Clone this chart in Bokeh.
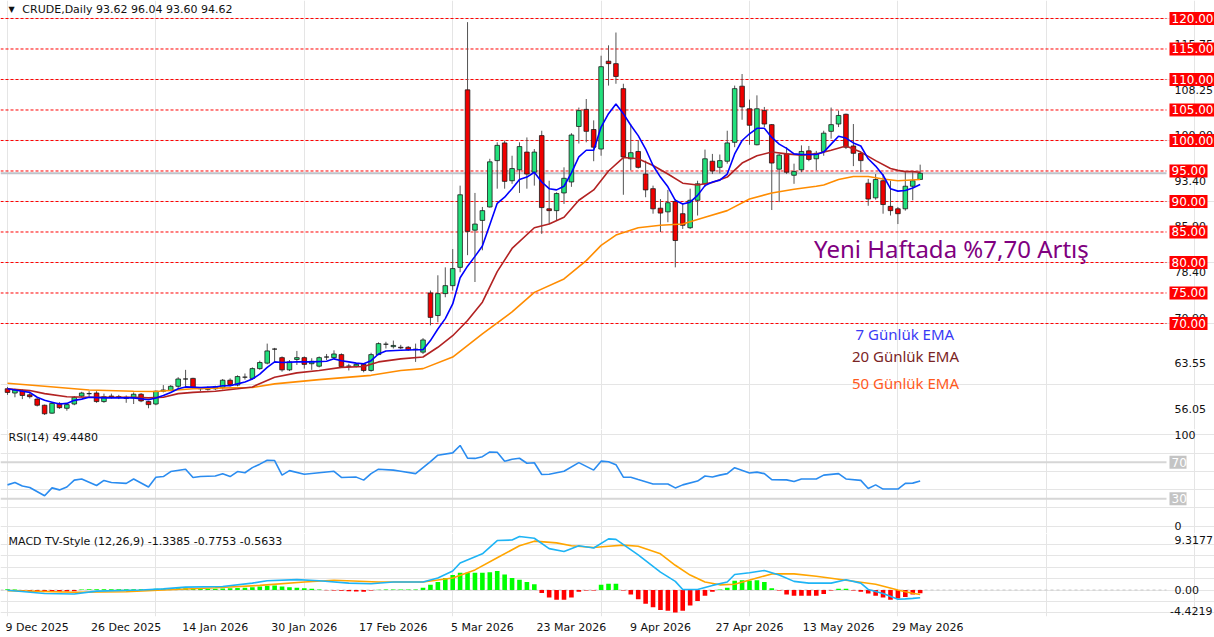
import numpy as np
from bokeh.plotting import figure
from bokeh.layouts import column
from bokeh.models import Range1d, LinearAxis, FixedTicker, Label
from bokeh.core.properties import value
from bokeh.embed import file_html
from bokeh.resources import INLINE

# ---------------- data ----------------
opens = [59.3, 58.6, 59.0, 58.3, 57.6, 56.6, 55.3, 56.9, 56.1, 56.8, 58.1, 58.5, 58.6, 57.2, 58.1, 58.0, 57.9, 57.8, 58.4, 57.2,
         56.8, 58.9, 59.0, 59.7, 60.9, 61.0, 59.4, 59.2, 59.3, 59.5, 60.7, 59.9, 61.2, 61.0, 62.6, 63.5, 65.8, 64.4, 62.4, 64.1,
         64.4, 63.4, 63.0, 64.5, 64.4, 64.9, 63.0, 63.0, 63.3, 62.3, 64.9, 66.6, 66.2, 66.1, 66.1, 65.7, 65.3, 75.0, 71.3, 74.9,
         76.2, 79.2, 108.3, 85.3, 86.9, 89.1, 96.7, 99.6, 93.4, 95.2, 98.1, 94.8, 100.8, 88.8, 88.5, 91.4, 93.2, 102.3, 105.1, 101.8,
         98.6, 113.0, 112.6, 108.5, 97.0, 98.2, 94.5, 92.1, 88.9, 88.3, 90.0, 88.0, 85.7, 90.2, 92.9, 96.6, 95.6, 96.6, 99.7, 108.9,
         105.2, 99.3, 104.9, 102.6, 95.3, 97.8, 94.3, 95.2, 98.3, 97.0, 98.2, 101.5, 102.7, 104.3, 99.1, 97.9, 93.0, 90.6, 93.4, 89.2,
         88.8, 88.8, 92.5, 93.62]
highs = [59.6, 59.3, 59.2, 58.6, 57.8, 56.7, 57.0, 57.1, 56.9, 58.1, 58.8, 58.9, 58.9, 58.5, 58.5, 58.3, 58.2, 58.7, 58.6, 57.3,
         59.0, 59.9, 59.9, 61.2, 62.4, 61.1, 59.6, 59.7, 59.8, 60.9, 61.0, 61.5, 61.8, 62.8, 63.9, 66.7, 66.0, 64.6, 64.0, 65.5,
         64.6, 64.3, 64.6, 65.0, 65.6, 65.1, 63.4, 63.5, 63.5, 65.2, 66.9, 67.0, 67.2, 66.5, 66.3, 66.7, 67.6, 75.4, 77.9, 79.2,
         82.2, 92.6, 119.4, 91.4, 89.1, 97.0, 99.7, 100.0, 97.5, 99.7, 100.5, 98.6, 101.6, 93.4, 91.5, 95.6, 101.2, 105.4, 106.8, 103.3,
         113.9, 115.6, 117.7, 109.3, 102.7, 100.0, 96.7, 92.6, 90.4, 91.9, 90.4, 89.6, 92.1, 93.4, 98.5, 97.8, 97.7, 101.6, 109.0, 110.9,
         106.7, 107.4, 105.5, 102.7, 97.8, 98.9, 96.2, 99.2, 99.1, 98.3, 101.6, 105.4, 104.9, 104.4, 102.7, 98.1, 93.7, 94.5, 94.5, 93.4,
         89.1, 94.8, 94.8, 96.04]
lows = [58.3, 57.9, 57.6, 57.7, 56.4, 55.0, 55.2, 56.0, 55.7, 56.6, 57.9, 58.0, 57.0, 57.0, 57.7, 57.6, 57.0, 56.8, 57.1, 56.1,
        56.6, 58.7, 58.9, 59.4, 59.6, 59.3, 58.9, 59.0, 59.1, 59.2, 59.7, 59.7, 60.8, 60.8, 62.4, 63.3, 63.7, 62.1, 62.2, 63.2,
        62.6, 62.4, 62.8, 64.0, 64.2, 62.8, 62.3, 62.8, 62.0, 62.1, 64.8, 65.9, 65.9, 65.8, 65.5, 63.7, 65.0, 69.7, 70.2, 74.3,
        75.4, 78.4, 81.2, 76.8, 82.0, 89.0, 92.1, 92.1, 92.9, 91.4, 92.1, 92.6, 84.7, 86.3, 86.9, 89.6, 92.4, 99.5, 99.7, 96.6,
        97.5, 109.0, 109.3, 91.1, 95.1, 95.4, 90.7, 88.0, 85.0, 86.6, 79.2, 85.5, 85.5, 87.7, 92.4, 94.5, 94.6, 96.2, 98.9, 103.4,
        99.3, 99.2, 102.2, 88.6, 89.9, 94.5, 92.9, 94.8, 96.6, 95.1, 97.5, 100.3, 102.2, 98.6, 95.8, 94.8, 89.3, 90.3, 88.0, 87.7,
        86.3, 88.5, 90.2, 93.60]
closes = [58.7, 59.1, 58.2, 58.0, 56.6, 55.2, 56.9, 56.2, 56.7, 57.9, 58.6, 58.5, 57.2, 58.0, 58.0, 57.9, 57.7, 58.4, 57.3, 56.7,
          58.9, 59.1, 59.7, 60.9, 60.9, 59.5, 59.3, 59.4, 59.6, 60.7, 60.0, 61.3, 61.2, 62.6, 63.6, 65.5, 65.8, 62.4, 63.7, 64.4,
          63.3, 63.8, 64.4, 64.5, 65.0, 62.95, 63.0, 63.3, 62.3, 64.9, 66.7, 66.6, 66.4, 66.0, 65.7, 65.8, 67.3, 71.0, 74.9, 76.2,
          79.0, 91.1, 85.1, 86.3, 88.5, 96.5, 99.2, 93.3, 95.4, 99.0, 94.5, 98.1, 89.0, 88.5, 91.3, 93.8, 100.9, 104.9, 101.5, 98.9,
          112.1, 112.6, 110.5, 97.3, 98.0, 95.6, 91.9, 88.8, 88.1, 89.8, 83.6, 86.1, 90.2, 92.9, 97.0, 95.0, 96.7, 99.6, 108.5, 105.5,
          102.5, 105.2, 102.7, 96.3, 97.6, 94.8, 94.9, 98.2, 96.9, 97.9, 101.2, 102.6, 104.1, 98.9, 97.9, 96.7, 90.4, 93.6, 89.5, 88.5,
          88.0, 92.5, 93.4, 94.62]

ema7_x = [0, 2, 3, 4, 5, 6, 7, 8, 9, 10, 11, 13, 15, 17, 19, 20, 21, 22, 23, 24, 26, 28, 29, 30, 31, 32, 33, 34, 35, 36, 37, 39,
          41, 43, 44, 45, 46, 47, 48, 49, 50, 51, 53, 55, 56, 57, 58, 59, 60, 61, 62, 63, 64, 65, 66, 67, 68, 69, 70, 71, 72, 73,
          74, 75, 76, 77, 78, 79, 80, 81, 82, 83, 84, 85, 86, 87, 88, 89, 90, 91, 92, 93, 94, 95, 96, 97, 98, 99, 100, 101, 102,
          103, 104, 105, 106, 107, 108, 109, 110, 111, 112, 113, 114, 115, 116, 117, 118, 119, 120, 121, 122, 123]
ema7_y = [59.3, 58.9, 58.7, 57.9, 57.4, 57.1, 56.8, 56.9, 57.4, 57.6, 57.9, 57.8, 57.8, 57.8, 57.5, 57.8, 58.2, 58.7, 59.3, 59.6,
          59.5, 59.6, 59.8, 59.8, 60.1, 60.4, 60.9, 61.7, 62.8, 63.7, 63.6, 63.7, 63.7, 63.8, 64.2, 63.9, 63.7, 63.5, 63.4, 63.9,
          65.0, 65.5, 65.6, 65.7, 65.7, 67.2, 69.1, 70.8, 73.2, 77.5, 79.4, 81.0, 82.7, 86.2, 89.7, 90.7, 92.1, 93.6, 94.0, 94.8,
          93.2, 92.1, 91.9, 92.5, 94.7, 97.3, 98.4, 98.4, 102.2, 104.4, 106.0, 104.4, 102.5, 100.8, 98.6, 95.9, 94.0, 92.4, 90.2,
          89.6, 89.9, 91.0, 92.6, 93.2, 93.5, 94.5, 97.8, 100.0, 101.1, 102.0, 102.0, 100.5, 99.4, 98.7, 97.8, 97.7, 97.7, 97.7,
          98.1, 99.4, 100.7, 100.4, 99.6, 99.1, 97.0, 95.8, 94.3, 92.1, 91.7, 91.8, 92.2, 92.8]

ema20_x = [0, 3, 5, 8, 11, 14, 17, 19, 21, 23, 25, 28, 31, 33, 36, 39, 42, 45, 48, 50, 53, 56, 58, 60, 62, 64, 66, 68, 71, 73,
           75, 77, 79, 81, 83, 85, 87, 89, 91, 93, 95, 97, 99, 101, 103, 105, 107, 109, 111, 113, 115, 117, 119, 120, 121, 122, 123]
ema20_y = [59.3, 59.0, 58.5, 58.0, 57.9, 57.9, 57.9, 57.8, 57.9, 58.5, 58.7, 58.9, 59.3, 59.6, 61.2, 61.9, 62.3, 62.8, 62.95,
           63.7, 64.2, 64.5, 66.1, 68.0, 70.5, 73.5, 78.5, 82.3, 85.7, 86.3, 87.4, 90.2, 91.9, 95.0, 97.2, 97.0, 95.9, 94.5, 93.0,
           92.7, 93.1, 94.0, 96.3, 97.5, 98.1, 97.8, 97.6, 97.8, 98.4, 99.1, 98.1, 96.7, 95.4, 95.1, 94.9, 94.9, 94.8]

ema50_x = [0, 5, 11, 17, 20, 25, 28, 33, 36, 42, 49, 53, 56, 60, 64, 68, 71, 75, 78, 80, 82, 85, 88, 91, 94, 97, 100, 103, 106,
           109, 110, 112, 114, 116, 118, 120, 123]
ema50_y = [60.2, 59.7, 59.1, 58.9, 58.85, 59.3, 59.4, 59.5, 60.1, 60.8, 61.5, 62.3, 62.6, 64.5, 68.3, 71.9, 75.1, 77.3, 80.3,
           82.8, 84.5, 85.7, 86.1, 86.3, 87.4, 88.5, 90.4, 91.4, 92.0, 92.5, 92.7, 93.6, 94.1, 94.1, 93.7, 93.4, 93.6]

rsi_x = [0, 1, 2, 3, 5, 6, 7, 8, 9, 10, 12, 13, 14, 16, 17, 19, 20, 21, 22, 24, 25, 26, 28, 29, 30, 31, 32, 33, 34, 35, 36, 37,
         38, 40, 42, 44, 45, 46, 47, 48, 49, 50, 52, 53, 55, 56, 57, 58, 60, 61, 62, 63, 64, 65, 66, 67, 68, 69, 70, 71, 72, 73,
         75, 77, 79, 80, 81, 82, 83, 84, 85, 87, 89, 90, 91, 93, 94, 95, 96, 97, 98, 100, 101, 102, 103, 105, 106, 107, 109, 110,
         112, 113, 115, 116, 117, 118, 120, 121, 122, 123]
rsi_y = [45.3, 47.9, 44.0, 42.4, 33.3, 42.0, 39.8, 43.0, 50.5, 51.8, 44.6, 50.2, 47.9, 46.9, 51.8, 43.0, 53.7, 54.4, 59.9, 62.5,
         53.4, 54.4, 55.0, 57.5, 54.4, 59.9, 58.6, 64.2, 68.0, 72.3, 72.0, 56.0, 60.9, 57.0, 58.6, 60.2, 53.4, 53.6, 53.8, 50.5,
         57.6, 62.5, 61.5, 60.2, 57.6, 64.2, 70.7, 77.8, 80.4, 88.5, 74.6, 74.3, 76.2, 81.4, 81.1, 71.3, 73.3, 74.5, 69.0, 69.5,
         56.7, 56.9, 60.2, 69.7, 61.5, 71.3, 70.7, 67.4, 53.7, 53.7, 51.1, 46.3, 46.3, 42.0, 45.3, 49.5, 55.0, 53.9, 56.0, 57.6,
         64.2, 58.3, 59.3, 57.6, 51.1, 50.8, 48.9, 51.8, 51.8, 56.0, 57.6, 51.8, 50.2, 41.4, 45.3, 40.7, 40.7, 46.9, 47.2, 49.448]

macd_x = [0, 5, 9, 12, 18, 21, 24, 29, 33, 35, 39, 42, 46, 49, 52, 56, 58, 60, 61, 64, 66, 68, 69, 71, 73, 75, 77, 79, 81, 82,
          85, 88, 90, 91, 93, 95, 97, 98, 100, 102, 104, 106, 108, 111, 113, 115, 116, 118, 120, 121, 122, 123]
macd_y = [-0.05, -0.6, -0.7, -0.2, 0.0, 0.2, 0.5, 0.6, 1.2, 1.6, 1.8, 1.6, 1.2, 1.1, 1.4, 1.4, 2.1, 3.3, 4.7, 6.3, 8.6, 8.7,
          9.3177, 9.0, 7.2, 6.7, 7.7, 7.3, 8.9, 8.8, 6.1, 3.1, 1.5, 0.1, 0.1, 0.8, 1.4, 2.7, 3.0, 3.4, 2.6, 1.5, 1.2, 1.2, 1.8,
          1.2, 0.1, -0.6, -1.6, -1.55, -1.45, -1.3385]

signal_x = [0, 9, 16, 21, 28, 34, 40, 44, 50, 56, 60, 63, 66, 69, 71, 74, 76, 79, 81, 83, 85, 88, 90, 92, 94, 96, 98, 101,
            103, 106, 109, 113, 117, 120, 121, 122, 123]
signal_y = [-0.1, -0.4, -0.3, 0.0, 0.4, 0.8, 1.4, 1.7, 1.4, 1.4, 2.1, 3.5, 5.6, 7.7, 8.5, 8.2, 7.7, 7.4, 7.6, 7.8, 7.6, 6.3,
            4.3, 2.6, 1.4, 0.9, 1.0, 2.1, 2.8, 2.8, 2.4, 1.7, 1.0, 0.0, -0.3, -0.55, -0.7753]

hist = [0.15, 0.1, -0.2, -0.3, -0.35, -0.35, -0.3, -0.3, -0.25, -0.2, 0.1, 0.15, 0.15, 0.15, 0.15, 0.15, 0.15, 0.15, 0.15, 0.1,
        0.2, 0.2, 0.25, 0.3, 0.3, 0.25, 0.2, 0.2, 0.2, 0.25, 0.3, 0.35, 0.4, 0.5, 0.6, 0.75, 0.8, 0.6, 0.5, 0.4,
        0.3, 0.2, 0.1, -0.05, -0.1, -0.15, -0.2, -0.25, -0.3, -0.1, 0.05, 0.1, 0.1, 0.1, 0.1, 0.1, 0.4, 0.9, 1.4, 2.1,
        2.6, 3.0, 3.0, 3.0, 3.0, 3.1, 3.3, 2.7, 2.1, 1.8, 1.4, 1.0, -0.5, -1.3, -1.7, -1.7, -1.3, -0.3, -0.1, -0.1,
        0.9, 1.1, 1.1, -0.1, -0.8, -1.6, -2.4, -3.0, -3.5, -3.6, -3.9, -3.6, -2.7, -1.9, -1.0, -0.3, 0.1, 0.4, 1.6, 1.7,
        1.6, 1.7, 1.4, 0.3, -0.1, -0.8, -1.0, -1.0, -1.0, -1.0, -0.7, -0.1, 0.2, 0.2, -0.1, -0.3, -0.6, -1.0, -1.3, -1.7,
        -1.5, -1.2, -0.8, -0.5633]

level_lines = [120, 115, 110, 105, 100, 95, 90, 85, 80, 75, 70]
price_axis_ticks = [115.75, 108.25, 100.90, 93.40, 85.90, 78.40, 70.90, 63.55, 56.05]
rsi_levels = [70, 30]
rsi_axis_ticks = [100, 0]
macd_max = 9.3177
macd_zero = 0.0
macd_min = -4.4219
date_tick_idx = [0, 12, 24, 36, 48, 60, 72, 84, 96, 108, 120]
date_labels = ["9 Dec 2025", "26 Dec 2025", "14 Jan 2026", "30 Jan 2026", "17 Feb 2026", "5 Mar 2026",
               "23 Mar 2026", "9 Apr 2026", "27 Apr 2026", "13 May 2026", "29 May 2026"]

# ---------------- layout constants ----------------
FONT = "DejaVu Sans"
W = 1214
PX = 7.42                 # pixels per bar
X0 = -0.944               # data x at the left edge
X1 = X0 + W / PX          # data x at the right edge (price-scale strip included)
def dx(px):               # screen x (px from left) -> data x
    return X0 + px / PX
PANE_END = dx(1166)       # where the chart area ends and the price scale begins
AX_TEXT = dx(1174)
AX_RIGHT = dx(1212)
BOX_LEFT = 1169

N = len(closes)
idx = np.arange(N)
o = np.array(opens); c = np.array(closes)
body_top = np.maximum(o, c); body_bot = np.minimum(o, c)
body_col = ["#22E07C" if cc >= oo else "#F00000" for oo, cc in zip(opens, closes)]

xr = Range1d(X0, X1)

def base_fig(h, yr, bottom=0):
    f = figure(width=W, height=h, x_range=xr, y_range=yr, output_backend="svg",
               toolbar_location=None, x_axis_location=None, y_axis_location=None,
               min_border_left=0, min_border_right=0, min_border_top=0, min_border_bottom=bottom)
    f.outline_line_color = None
    f.background_fill_color = "white"
    f.border_fill_color = "white"
    return f

def hlines(f, ys, **kw):
    f.segment(x0=[X0] * len(ys), y0=ys, x1=[PANE_END] * len(ys), y1=ys, **kw)

def scale_text(f, ys, labels, baseline="middle", align="left", color="#111111"):
    xpos = AX_TEXT if align == "left" else AX_RIGHT
    f.text(x=[xpos] * len(ys), y=ys, text=labels, text_font=value(FONT), text_font_size="11px",
           text_color=color, text_align=align, text_baseline=baseline)

def boxed_labels(f, ys, labels, fill):
    widths = [7 * len(s) + 3 for s in labels]
    f.rect(x=[dx(BOX_LEFT + w / 2) for w in widths], y=ys, width=widths, height=13,
           width_units="screen", height_units="screen", fill_color=fill, line_color=None)
    f.text(x=[dx(BOX_LEFT + 2)] * len(ys), y=ys, text=labels, text_font=value(FONT),
           text_font_size="12px", text_color="white", text_align="left", text_baseline="middle")

def header(f, x, y, txt, size="11px", font=FONT, color="#111111"):
    f.add_layout(Label(x=x, y=y, text=txt, text_font=font, text_font_size=size,
                       text_baseline="middle", text_color=color))

# ---------------- price panel ----------------
p1 = base_fig(429, Range1d(52.62, 122.95))
hlines(p1, [closes[-1]], line_color="#BFC3CA", line_width=2)
hlines(p1, level_lines, line_color="#FF0000", line_dash="3 2", line_width=1)
p1.segment(x0=idx, y0=lows, x1=idx, y1=highs, line_color="#555555", line_width=1)
p1.vbar(x=idx, width=0.62, top=body_top, bottom=body_bot, fill_color=body_col,
        line_color="#1a1a1a", line_width=0.8)
p1.line(ema50_x, ema50_y, line_color="#FF8C00", line_width=1.6)
p1.line(ema20_x, ema20_y, line_color="#B22222", line_width=1.6)
p1.line(ema7_x, ema7_y, line_color="#0000FF", line_width=1.6)
scale_text(p1, price_axis_ticks, [f"{t:.2f}" for t in price_axis_ticks])
boxed_labels(p1, level_lines, [f"{v:.2f}" for v in level_lines], "#FF0000")

header(p1, 0.15, 121.5, "▼", size="8px")
header(p1, 2.0, 121.5, "CRUDE,Daily  93.62 96.04 93.60 94.62")
header(p1, 108.7, 82.3, "Yeni Haftada %7,70 Artış", size="24px", font="Noto Sans", color="#800080")
header(p1, 114.3, 68.2, "7 Günlük EMA", size="15px", font="Noto Sans", color="#3A3AF5")
header(p1, 113.8, 64.7, "20 Günlük EMA", size="15px", font="Noto Sans", color="#7A2424")
header(p1, 113.8, 60.2, "50 Günlük EMA", size="15px", font="Noto Sans", color="#FF5A1E")

# ---------------- RSI panel ----------------
p2 = base_fig(104, Range1d(-8, 106))
hlines(p2, rsi_levels, line_color="#D6D6D6", line_width=2)
p2.line(rsi_x, rsi_y, line_color="#2A8CF0", line_width=1.6)
scale_text(p2, rsi_axis_ticks, [str(t) for t in rsi_axis_ticks])
boxed_labels(p2, rsi_levels, [str(v) for v in rsi_levels], "#C4C4C4")
header(p2, 0.15, 97.0, "RSI(14) 49.4480")

# ---------------- MACD panel ----------------
p3 = base_fig(104, Range1d(-4.61, 9.83), bottom=21)
hlines(p3, [macd_zero], line_color="#C8C8C8", line_dash="3 3", line_width=1)
hist_col = ["#00FF00" if h >= 0 else "#FF0000" for h in hist]
p3.vbar(x=idx, width=0.62, top=hist, bottom=0, fill_color=hist_col, line_color=None)
p3.line(signal_x, signal_y, line_color="#FFA500", line_width=1.6)
p3.line(macd_x, macd_y, line_color="#1EB4F5", line_width=1.6)
scale_text(p3, [macd_max], [f"{macd_max:.4f}"], baseline="top")
scale_text(p3, [macd_zero], [f"{macd_zero:.2f}"], baseline="middle")
scale_text(p3, [macd_min], [f"{macd_min:.4f}"], baseline="bottom", align="right")
header(p3, 0.15, 8.45, "MACD TV-Style (12,26,9) -1.3385 -0.7753 -0.5633")

date_ticks = [i + 4 for i in date_tick_idx]
xax = LinearAxis(ticker=FixedTicker(ticks=date_ticks),
                 major_label_overrides={t: lab for t, lab in zip(date_ticks, date_labels)})
xax.axis_line_color = None
xax.major_tick_line_color = None
xax.minor_tick_line_color = None
xax.major_tick_in = 0
xax.major_tick_out = 0
xax.major_label_standoff = 4
xax.major_label_text_font = FONT
xax.major_label_text_font_size = "11px"
xax.major_label_text_color = "#111111"
p3.add_layout(xax, "below")

layout = column(p1, p2, p3, spacing=0)
open("out.html", "w").write(file_html(layout, INLINE))
